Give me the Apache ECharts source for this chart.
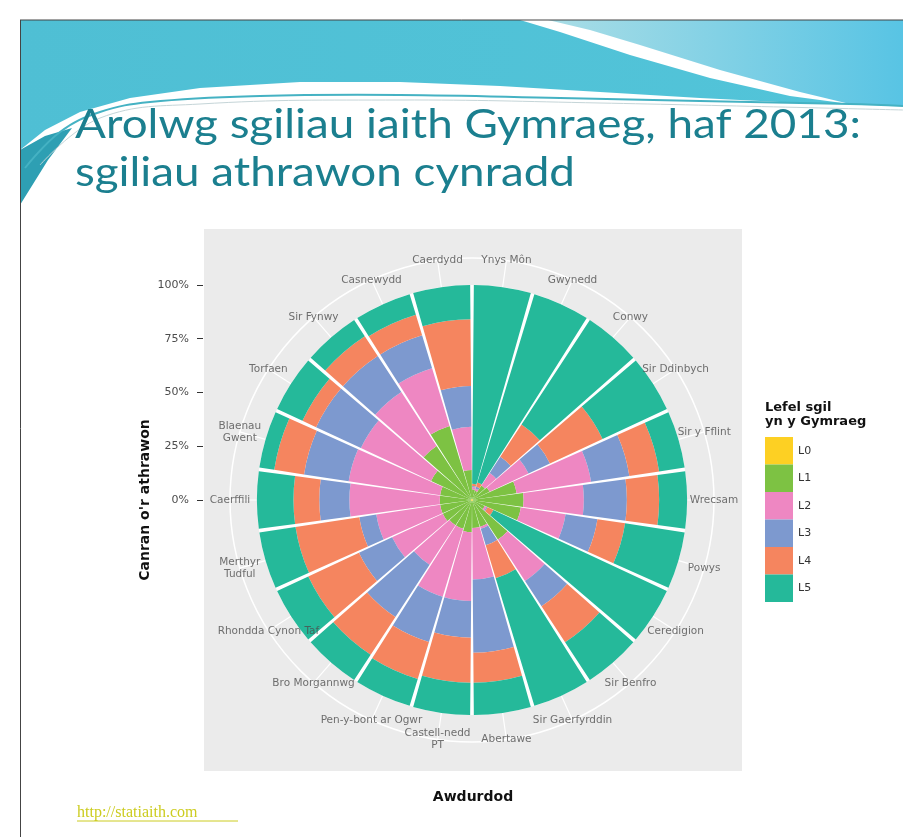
<!DOCTYPE html>
<html><head><meta charset="utf-8">
<script src="https://cdn.jsdelivr.net/npm/echarts@6.0.0/dist/echarts.min.js"></script>
<style>html,body{margin:0;padding:0;background:#fff}#c{width:903px;height:837px}</style>
</head><body><div id="c"></div>
<script>
// ---- data ----
const categories = ['Ynys Môn','Gwynedd','Conwy','Sir Ddinbych','Sir y Fflint','Wrecsam','Powys','Ceredigion','Sir Benfro','Sir Gaerfyrddin','Abertawe','Castell-nedd\nPT','Pen-y-bont ar Ogwr','Bro Morgannwg','Rhondda Cynon Taf','Merthyr\nTudful','Caerffili','Blaenau\nGwent','Torfaen','Sir Fynwy','Casnewydd','Caerdydd'];
const levelNames = ['L0','L1','L2','L3','L4','L5'];
const L0 = [0.5,0.5,0.5,0.5,0.5,0.5,0.5,0.5,0.5,0.5,0.5,0.5,0.5,0.5,0.5,0.5,0.5,0.5,0.5,0.5,0.5,0.5];
const L1 = [4.5,4,7.5,8.5,20.5,23.5,22.5,6,21.5,12.5,12.5,14.5,13.5,13.5,14.5,14.5,14.5,14.5,20.5,29.5,35.5,13.5];
const L2 = [1,1,7,20,35,28,21,1,23,1,24,32,33,22,26,30,42,43,36,30,28,20];
const L3 = [0.5,1,9,11,18,20,15,0.5,14,8,34,17,22,29,17,8,14,21,23,20,16,19];
const L4 = [1,2,18,27,14,15,13,3,20,16,14,21,18,21,26,30,12,14,7,11,10,31];
const L5 = [92.5,91.5,58,33,12,13,28,89,21,62,15,15,13,14,16,17,17,7,13,9,10,16];
const radialTickValues = [0,25,50,75,100];
const radialTickLabels = ['0%','25%','50%','75%','100%'];

// ---- style / layout ----
const levelColors = ['#fdd023','#7dc243','#ee87c2','#7d99cf','#f5855f','#25b99a'];
const CX = 472, CY = 500, R = 242, RMAX = 112.5;
const R100 = R * 100 / RMAX;
const levels = [L0,L1,L2,L3,L4,L5];

const chart = echarts.init(document.getElementById('c'), null, {renderer:'canvas'});

const headerGraphics = [
  {type:'polygon', silent:true, z:-50, shape:{points:[[20,20],[520,20],[560,32],[630,55],[710,78],[790,96],[850,104],[800,103],[700,98],[600,92],[500,86],[400,82],[300,82],[200,88],[130,98],[80,112],[45,130],[20,150]]},
   style:{fill:{type:'linear',x:0,y:0,x2:1,y2:0,colorStops:[{offset:0,color:'#4fbfd4'},{offset:1,color:'#52c4d9'}]}}},
  {type:'polygon', silent:true, z:-50, shape:{points:[[548,20],[903,20],[903,106],[850,104],[800,92],[720,70],[640,45],[590,30]]},
   style:{fill:{type:'linear',x:0,y:0,x2:1,y2:0,colorStops:[{offset:0,color:'#a9dde6'},{offset:1,color:'#58c4e4'}]}}},
  {type:'polygon', silent:true, z:-50, shape:{points:[[20,150],[45,136],[72,128],[48,160],[20,205]]}, style:{fill:'#2e9fb3'}},
  {type:'polyline', silent:true, z:-49, shape:{points:[[25,168],[60,132],[100,112],[150,102],[260,96],[400,95],[560,98],[700,101],[850,104],[903,106]], smooth:0.4}, style:{stroke:'#45b2c3', lineWidth:2, fill:null}},
  {type:'polyline', silent:true, z:-49, shape:{points:[[40,165],[100,118],[200,104],[400,100],[600,103],[903,110]], smooth:0.4}, style:{stroke:'#c5d5d8', lineWidth:1, fill:null}},
  {type:'line', silent:true, z:-40, shape:{x1:20,y1:20,x2:903,y2:20}, style:{stroke:'#444', lineWidth:1}},
  {type:'line', silent:true, z:-40, shape:{x1:20.5,y1:20,x2:20.5,y2:837}, style:{stroke:'#444', lineWidth:1}}
];

const textGraphics = [
  {type:'text', silent:true, z:50, x:75, y:125, scaleX:1.145, style:{text:'Arolwg sgiliau iaith Gymraeg, haf 2013:', fontFamily:'Lato', fontSize:40, fill:'#1b7f8f', verticalAlign:'middle', align:'left'}},
  {type:'text', silent:true, z:50, x:75, y:173, scaleX:1.145, style:{text:'sgiliau athrawon cynradd', fontFamily:'Lato', fontSize:40, fill:'#1b7f8f', verticalAlign:'middle', align:'left'}},
  {type:'text', silent:true, z:50, x:145, y:500, rotation:Math.PI/2, style:{text:"Canran o'r athrawon", fontFamily:'DejaVu Sans', fontWeight:'bold', fontSize:14, fill:'#111', align:'center', verticalAlign:'middle'}},
  {type:'text', silent:true, z:50, x:473, y:797, style:{text:'Awdurdod', fontFamily:'DejaVu Sans', fontWeight:'bold', fontSize:14, fill:'#111', align:'center', verticalAlign:'middle'}},
  {type:'text', silent:true, z:50, x:765, y:415, style:{text:'Lefel sgil\nyn y Gymraeg', fontFamily:'DejaVu Sans', fontWeight:'bold', fontSize:13, lineHeight:14, fill:'#111', align:'left', verticalAlign:'middle'}},
  {type:'text', silent:true, z:50, x:77, y:813, style:{text:'http://statiaith.com', fontFamily:'Liberation Serif', fontSize:16, fill:'#cccc20', align:'left', verticalAlign:'middle'}},
  {type:'line', silent:true, z:50, shape:{x1:77,y1:821,x2:238,y2:821}, style:{stroke:'#cccc20', lineWidth:1}}
];

const option = {
  animation: false,
  backgroundColor: '#ffffff',
  polar: [
    {center:[CX,CY], radius:R},
    {center:[CX,CY], radius:R}
  ],
  angleAxis: [
    {polarIndex:0, type:'category', data:categories, startAngle:90, clockwise:true, boundaryGap:true,
     axisLine:{show:false}, axisTick:{show:false}, axisLabel:{show:false}, splitLine:{show:false}},
    {polarIndex:1, type:'category', data:categories, startAngle:90 - 180/categories.length, clockwise:true, boundaryGap:true,
     axisLine:{show:true, lineStyle:{color:'#ffffff', width:1.5}}, axisTick:{show:false}, axisLabel:{show:false},
     splitLine:{show:true, lineStyle:{color:'#ffffff', width:1.2}}}
  ],
  radiusAxis: [
    {polarIndex:0, type:'value', min:0, max:RMAX, axisLine:{show:false}, axisTick:{show:false}, axisLabel:{show:false}, splitLine:{show:false}},
    {polarIndex:1, type:'value', min:0, max:RMAX, axisLine:{show:false}, axisTick:{show:false}, axisLabel:{show:false}, splitLine:{show:false}}
  ],
  grid: {left:203, top:CY - R100, height:R100, width:10, show:false},
  xAxis: {type:'value', show:false},
  yAxis: {type:'value', min:0, max:100, interval:25, axisLine:{show:false},
    axisTick:{show:true, length:6, lineStyle:{color:'#333', width:1}},
    axisLabel:{margin:14, color:'#4d4d4d', fontSize:11, fontFamily:'DejaVu Sans',
      formatter: v => radialTickLabels[radialTickValues.indexOf(v)]},
    splitLine:{show:false}},
  legend: {data:levelNames, orient:'vertical', left:765, top:437, itemWidth:28, itemHeight:27.5, itemGap:0, padding:0,
    icon:'rect', selectedMode:false, textStyle:{color:'#333', fontSize:11, fontFamily:'DejaVu Sans'}},
  graphic: [
    {type:'rect', silent:true, z:-100, shape:{x:204, y:229, width:538, height:542}, style:{fill:'#ebebeb'}},
    ...headerGraphics,
    ...textGraphics
  ],
  series: [
    {type:'pie', center:[CX,CY], radius:[0,R100], silent:true, z:1, label:{show:false}, labelLine:{show:false},
     itemStyle:{color:'#ffffff'}, emphasis:{disabled:true}, data:[{value:1, name:'disc'}]},
    ...levels.map((arr,k) => ({
      type:'bar', name:levelNames[k], coordinateSystem:'polar', polarIndex:0, stack:'total',
      data:arr, barCategoryGap:'6%', silent:true, z:2,
      itemStyle:{color:levelColors[k]}
    })),
    {type:'scatter', coordinateSystem:'polar', polarIndex:0, silent:true, z:10, symbol:'circle', symbolSize:1,
     itemStyle:{color:'rgba(0,0,0,0)'},
     data: categories.map(c => ({name:c, value:[RMAX, c]})),
     label:{show:true, position:'inside', formatter:'{b}', color:'#4d4d4d', fontSize:10.5, lineHeight:12,
       fontFamily:'DejaVu Sans', align:'center', verticalAlign:'middle'}}
  ]
};
chart.setOption(option);
</script>
</body></html>
